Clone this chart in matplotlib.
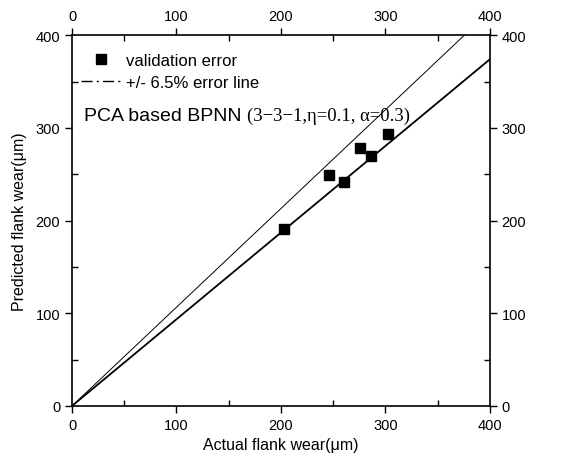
import numpy as np
import matplotlib
matplotlib.use("Agg")
import matplotlib.pyplot as plt
from matplotlib.ticker import MultipleLocator

plt.rcParams['font.family'] = ['Liberation Sans', 'DejaVu Sans']

actual = [203, 246, 260, 276, 286, 302]
predicted = [191, 249, 242, 278, 270, 293]
error_pct = 6.5
line_x = [0, 400]

fig = plt.figure(figsize=(5.67, 4.64), dpi=100)
ax = fig.add_axes([0.127, 0.123, 0.737, 0.799])

upper = [x * (1 + error_pct / 100) for x in line_x]
lower = [x * (1 - error_pct / 100) for x in line_x]
ax.plot(line_x, upper, color='black', lw=0.7)
ax.plot(line_x, lower, color='black', lw=1.3)
ax.plot(actual, predicted, 's', color='black', ms=6.8, ls='none')

# legend handles
ax.plot([], [], 's', color='black', ms=6.8, ls='none', label='validation error')
ax.plot([], [], color='black', lw=1.0, dashes=(8, 3, 1.5, 3), label='+/- 6.5% error line')
handles, labels = ax.get_legend_handles_labels()
ax.legend(handles, labels, loc='upper left', frameon=False, fontsize=12,
          handlelength=2.4, handletextpad=0.3, borderaxespad=0.0,
          labelspacing=0.4, bbox_to_anchor=(0.005, 0.97))

t1 = ax.text(0.029, 0.772, 'PCA based BPNN ', transform=ax.transAxes,
             fontsize=14, va='baseline')
ax.annotate('(3\u22123\u22121,\u03b7=0.1, \u03b1=0.3)', xy=(1, 0), xycoords=t1,
            va='bottom', ha='left', fontsize=13.4, family='Liberation Serif')

ax.set_xlim(0, 400)
ax.set_ylim(0, 400)
ax.xaxis.set_major_locator(MultipleLocator(100))
ax.xaxis.set_minor_locator(MultipleLocator(50))
ax.yaxis.set_major_locator(MultipleLocator(100))
ax.yaxis.set_minor_locator(MultipleLocator(50))
ax.tick_params(which='major', direction='out', length=5, width=1,
               top=True, right=True, labeltop=True, labelright=True, labelsize=10.5)
ax.tick_params(which='minor', direction='in', length=4, width=1,
               top=True, right=True)
for s in ax.spines.values():
    s.set_linewidth(1.2)

ax.set_xlabel('Actual flank wear(\u03bcm)', fontsize=11.5)
ax.set_ylabel('Predicted flank wear(\u03bcm)', fontsize=11.5, labelpad=6)

fig.savefig('out.png', dpi=100)
